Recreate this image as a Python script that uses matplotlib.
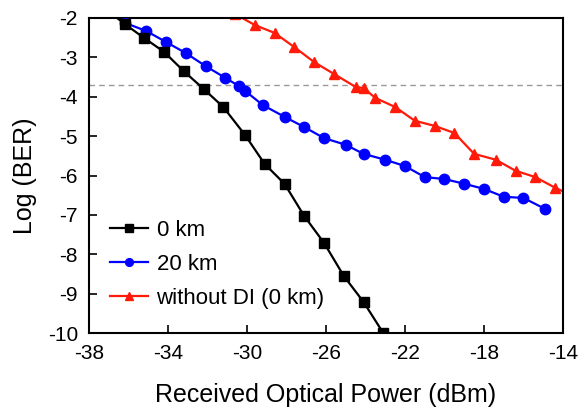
import matplotlib
matplotlib.use("Agg")
import matplotlib.pyplot as plt

plt.rcParams['font.family'] = ['Liberation Sans', 'DejaVu Sans']
plt.rcParams['axes.unicode_minus'] = False

# Data
x_0km = [-37.2, -36.2, -35.2, -34.2, -33.2, -32.2, -31.2, -30.1, -29.1, -28.1, -27.1, -26.1, -25.1, -24.1, -23.1]
y_0km = [-1.75, -2.15, -2.51, -2.86, -3.35, -3.80, -4.26, -4.97, -5.71, -6.21, -7.03, -7.71, -8.55, -9.21, -10.0]

x_20km = [-36.2, -35.1, -34.1, -33.1, -32.1, -31.1, -30.4, -30.1, -29.2, -28.1, -27.1, -26.1, -25.0, -24.1, -23.0,
          -22.0, -21.0, -20.0, -19.0, -18.0, -17.0, -16.0, -14.9]
y_20km = [-2.12, -2.33, -2.61, -2.89, -3.22, -3.52, -3.73, -3.85, -4.21, -4.51, -4.77, -5.05, -5.22, -5.45, -5.60,
          -5.76, -6.04, -6.09, -6.21, -6.34, -6.54, -6.57, -6.85]

x_nodi = [-30.6, -29.6, -28.6, -27.6, -26.6, -25.6, -24.5, -24.1, -23.5, -22.5, -21.5, -20.5, -19.5, -18.5, -17.4,
          -16.4, -15.4, -14.4, -13.8]
y_nodi = [-1.9, -2.18, -2.38, -2.74, -3.12, -3.42, -3.75, -3.78, -4.03, -4.26, -4.61, -4.74, -4.92, -5.45, -5.60,
          -5.88, -6.04, -6.31, -6.45]

fec_threshold = -3.7
xticks = [-38, -34, -30, -26, -22, -18, -14]
yticks = [-2, -3, -4, -5, -6, -7, -8, -9, -10]

fig = plt.figure(figsize=(5.82, 4.09), dpi=100)
ax = fig.add_axes([0.1529, 0.1858, 0.8144, 0.7702])

ax.axhline(fec_threshold, color='#999999', linestyle=(0, (4, 3)), linewidth=1.0, zorder=1)

ax.plot(x_nodi, y_nodi, color='#ff1a0a', marker='^', markersize=7.5, linewidth=1.6,
        label='without DI (0 km)', zorder=2)
ax.plot(x_20km, y_20km, color='#0000ff', marker='o', markersize=7.5, linewidth=1.6,
        label='20 km', zorder=3)
ax.plot(x_0km, y_0km, color='black', marker='s', markersize=7.5, linewidth=1.6,
        label='0 km', zorder=4)

ax.set_xlim(-38, -14)
ax.set_ylim(-10, -2)
ax.set_xticks(xticks)
ax.set_yticks(yticks)
ax.set_xticklabels([str(v) for v in xticks])
ax.set_yticklabels([str(v) for v in yticks])
ax.tick_params(direction='in', length=6, width=1.2, labelsize=15)
ax.tick_params(axis='x', pad=8)
ax.tick_params(axis='y', pad=8)
for s in ax.spines.values():
    s.set_linewidth(1.5)

ax.set_xlabel('Received Optical Power (dBm)', fontsize=18, labelpad=14)
ax.set_ylabel('Log (BER)', fontsize=18, labelpad=8)

handles, labels = ax.get_legend_handles_labels()
order = [2, 1, 0]
leg = ax.legend([handles[i] for i in order], [labels[i] for i in order],
                loc='upper left', bbox_to_anchor=(0.044, 0.36), frameon=False,
                fontsize=16, markerscale=0.75, handlelength=1.7, handletextpad=0.4,
                labelspacing=0.59, borderaxespad=0, borderpad=0)

fig.savefig('out.png', dpi=100)
